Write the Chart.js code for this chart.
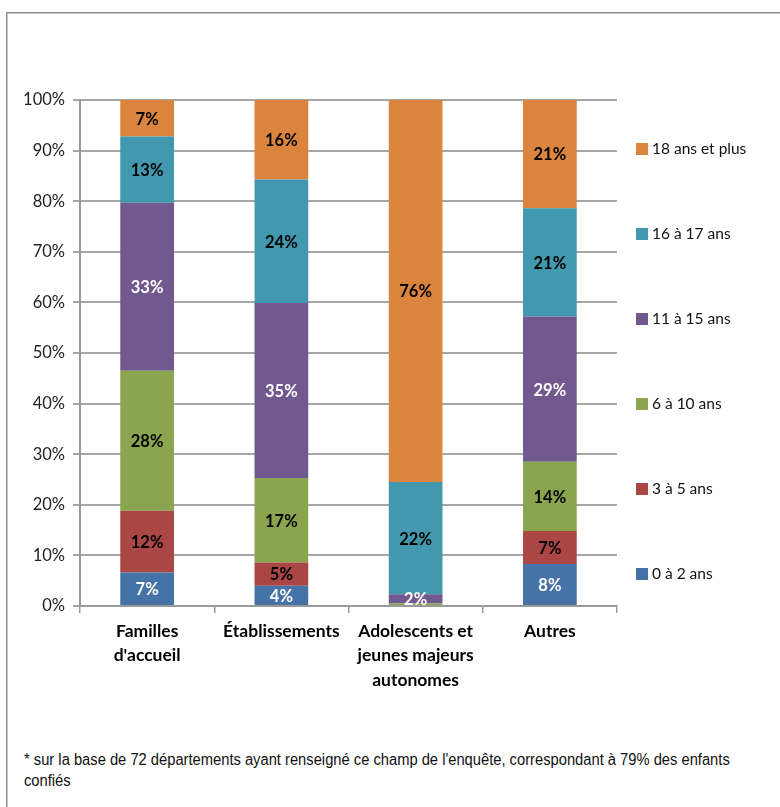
<!DOCTYPE html>
<html>
<head>
<meta charset="utf-8">
<script src="https://cdn.jsdelivr.net/npm/chart.js@4/dist/chart.umd.min.js"></script>
<style>
  body { margin: 0; background: #fff; width: 780px; height: 807px; overflow: hidden; position: relative; font-family: Lato, "Open Sans", sans-serif; }
  #frame { position: absolute; left: 6px; top: 12px; width: 800px; height: 820px; border: 1px solid #8c8c8c; box-shadow: inset 1px 1px 0 #c8c8c8; }
  #wrap { position: absolute; left: 0; top: 0; width: 780px; height: 720px; }
  #legend { position: absolute; left: 636px; top: 0; }
  .item { position: absolute; left: 0; white-space: nowrap; font-size: 15.5px; color: #111; }
  .item span.sw { display: inline-block; width: 12px; height: 12px; margin-right: 4px; vertical-align: -1px; }
  #note { position: absolute; left: 24px; top: 749px; font-family: "Liberation Sans", sans-serif; font-size: 16px; color: #111; line-height: 21px; width: 800px; transform: scaleX(0.92); transform-origin: left top; }
</style>
</head>
<body>
<div id="frame"></div>
<div id="wrap"><canvas id="c" width="780" height="720"></canvas></div>
<div id="legend"></div>
<div id="note">* sur la base de 72 départements ayant renseigné ce champ de l'enquête, correspondant à 79% des enfants<br>confiés</div>
<script>
// Categories (multi-line labels)
const categories = [["Familles", "d'accueil"], "Établissements", ["Adolescents et", "jeunes majeurs", "autonomes"], "Autres"];
const seriesNames = ["0 à 2 ans", "3 à 5 ans", "6 à 10 ans", "11 à 15 ans", "16 à 17 ans", "18 ans et plus"];
const seriesColors = ["#4572A7", "#AA4643", "#89A54E", "#71588F", "#4198AF", "#DB843D"];
const labelColors = ["#fff", "#000", "#000", "#fff", "#000", "#000"];

// Shares (%) per category
const age0to2 = [6.6, 4.0, 0, 8.3];
const age3to5 = [12.2, 4.6, 0, 6.5];
const age6to10 = [27.7, 16.7, 0.5, 13.7];
const age11to15 = [33.2, 34.6, 1.8, 28.7];
const age16to17 = [13.1, 24.4, 22.2, 21.4];
const age18plus = [7.2, 15.7, 75.5, 21.4];
const yTicks = [0, 10, 20, 30, 40, 50, 60, 70, 80, 90, 100];

const allSeries = [age0to2, age3to5, age6to10, age11to15, age16to17, age18plus];

const datasets = allSeries.map((vals, i) => ({
    label: seriesNames[i],
    data: vals,
    backgroundColor: seriesColors[i],
    borderWidth: 0,
    barPercentage: 0.4,
    categoryPercentage: 1.0
}));

// Draw the value labels in the middle of each segment
const segLabels = {
    id: 'segLabels',
    afterDatasetsDraw(chart) {
        const ctx = chart.ctx;
        ctx.save();
        ctx.font = 'bold 16.5px Lato, "Open Sans", sans-serif';
        ctx.textAlign = 'center';
        ctx.textBaseline = 'middle';
        chart.data.datasets.forEach((ds, di) => {
            chart.getDatasetMeta(di).data.forEach((bar, j) => {
                const v = ds.data[j];
                if (v < 1) return;
                const props = bar.getProps(['x', 'y', 'base'], true);
                ctx.fillStyle = labelColors[di];
                ctx.fillText(Math.round(v) + '%', props.x, (props.y + props.base) / 2 + 1);
            });
        });
        ctx.restore();
    }
};

new Chart(document.getElementById('c'), {
    type: 'bar',
    data: { labels: categories, datasets },
    options: {
        responsive: false,
        animation: false,
        layout: { padding: { left: 0, top: 100, right: 163, bottom: 0 } },
        plugins: { legend: { display: false }, tooltip: { enabled: false } },
        scales: {
            x: {
                stacked: true,
                afterFit(s) { s.height = 114; },
                grid: { offset: true, drawOnChartArea: false, color: '#999', lineWidth: 1.5, tickLength: 7 },
                border: { color: '#999', width: 2 },
                ticks: { color: '#000', font: { family: 'Lato, "Open Sans", sans-serif', size: 17.5, weight: 'bold', lineHeight: 1.4 }, padding: 6, maxRotation: 0, autoSkip: false }
            },
            y: {
                stacked: true,
                min: 0, max: 100,
                afterFit(s) { s.width = 80; },
                afterBuildTicks(s) { s.ticks = yTicks.map(v => ({ value: v })); },
                grid: { color: '#a6a6a6', lineWidth: 2, tickLength: 7 },
                border: { color: '#999', width: 2 },
                ticks: { color: '#222', font: { family: 'Lato, "Open Sans", sans-serif', size: 16.5 }, padding: 8, callback: v => v + '%' }
            }
        }
    },
    plugins: [segLabels]
});

// Legend on the right, top item = last series
const legendTops = [564, 479, 394, 309, 224, 139];
const legend = document.getElementById('legend');
seriesNames.forEach((name, i) => {
    const d = document.createElement('div');
    d.className = 'item';
    d.style.top = legendTops[i] + 'px';
    d.innerHTML = '<span class="sw" style="background:' + seriesColors[i] + '"></span>' + name;
    legend.appendChild(d);
});
</script>
</body>
</html>
